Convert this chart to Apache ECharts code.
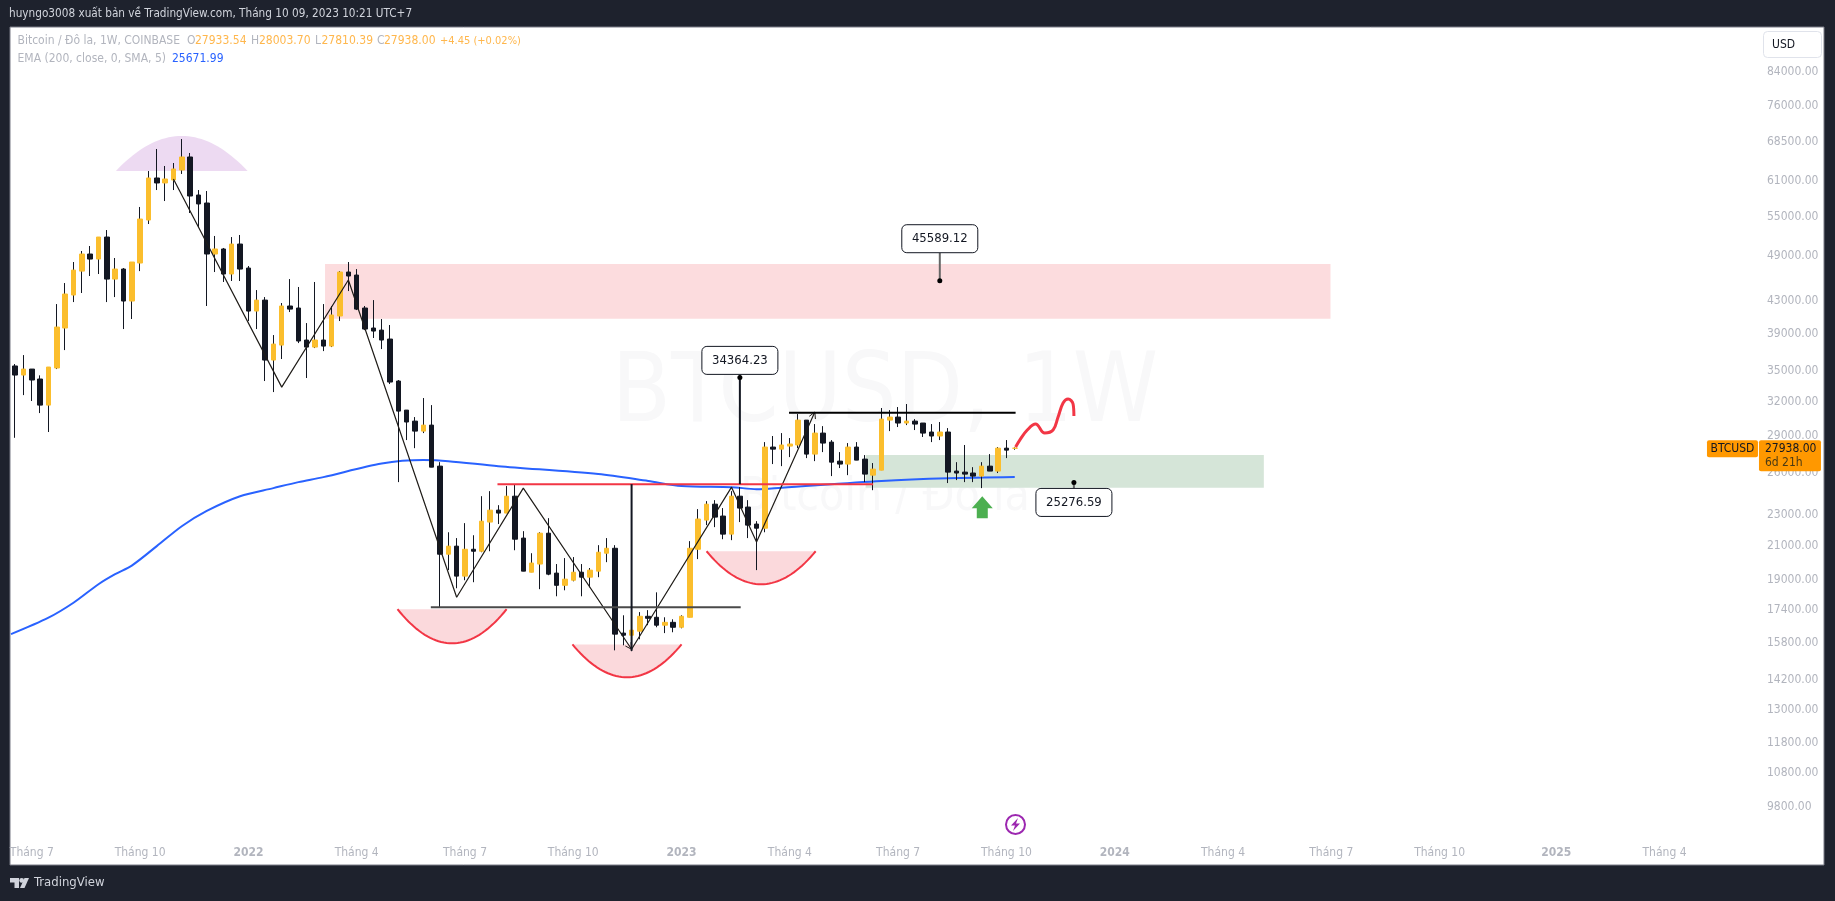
<!DOCTYPE html>
<html>
<head>
<meta charset="utf-8">
<title>BTCUSD 1W</title>
<style>
  html, body { margin: 0; height: 100%; background: #1e222d; }
  #chart { width: 1835px; height: 901px; }
</style>
<script src="https://cdn.jsdelivr.net/npm/echarts@6/dist/echarts.min.js"></script>
</head>
<body>
<div id="chart"></div>
<script>
const FONT = '"DejaVu Sans Condensed", "DejaVu Sans", sans-serif'

// weekly bars start at this monday, the axis runs on into the empty future
const firstWeek = Date.UTC(2021, 5, 21)
const weekCount = 209
const weeks = Array.from({ length: weekCount }, (_, i) =>
  new Date(firstWeek + i * 7 * 864e5).toISOString().slice(0, 10))

const timeTickWeeks = ['2021-07-05', '2021-10-04', '2022-01-03', '2022-04-04', '2022-07-04', '2022-10-03',
  '2023-01-02', '2023-04-03', '2023-07-03', '2023-10-02', '2024-01-01', '2024-04-01', '2024-07-01',
  '2024-09-30', '2025-01-06', '2025-04-07']
const timeTickTexts = ['Tháng 7', 'Tháng 10', '2022', 'Tháng 4', 'Tháng 7', 'Tháng 10',
  '2023', 'Tháng 4', 'Tháng 7', 'Tháng 10', '2024', 'Tháng 4', 'Tháng 7',
  'Tháng 10', '2025', 'Tháng 4']
const priceTicks = [84000, 76000, 68500, 61000, 55000, 49000, 43000, 39000, 35000, 32000, 29000, 26000,
  23000, 21000, 19000, 17400, 15800, 14200, 13000, 11800, 10800, 9800]

// open, close, low, high
const candles = [
  [35530, 34600, 28800, 35730], [34600, 35210, 32630, 36680], [35210, 34100, 32070, 35210], [34200, 31690, 30960, 34570],
  [31690, 35420, 29290, 35420], [35320, 39810, 35210, 42580], [39700, 43850, 37220, 45280], [43720, 47030, 42830, 48150],
  [46890, 49290, 43980, 49730], [49290, 48570, 46220, 50460], [48570, 51800, 46490, 51800], [51800, 45810, 42830, 52870],
  [45810, 47170, 43460, 48720], [47170, 42960, 39580, 47310], [42960, 48150, 40760, 48150], [48010, 54600, 46890, 56560],
  [54440, 61560, 53810, 62830], [61560, 60670, 59430, 67010], [60670, 61380, 57550, 63760], [61200, 63200, 59430, 64320],
  [63010, 65460, 62290, 68990], [65460, 58400, 55570, 66230], [58570, 57060, 53340, 59430], [57220, 49290, 42340, 59260],
  [49290, 50020, 46760, 51960], [50020, 46490, 45420, 50170], [46490, 50750, 45550, 51800], [50750, 47170, 45550, 52110],
  [47310, 41720, 40520, 47590], [41720, 43080, 39580, 44360], [43080, 36150, 34000, 43460], [36150, 37880, 32920, 38890],
  [37770, 42340, 36260, 42710], [42340, 41960, 41600, 45810], [42090, 38220, 37990, 44760], [38330, 37550, 34300, 40280],
  [37550, 38330, 37440, 45420], [38330, 37660, 37110, 42580], [37660, 41240, 37550, 42340], [41120, 46760, 40520, 46890],
  [46760, 46220, 44230, 48150], [46350, 41960, 41840, 47170], [42090, 39580, 39460, 42340], [39700, 39350, 38560, 43080],
  [39460, 38330, 37330, 40760], [38440, 33900, 33700, 40050], [34000, 31140, 25300, 34100], [31230, 30160, 28610, 31230],
  [30240, 29370, 27940, 30600], [29370, 29890, 29200, 32350], [29890, 26430, 26430, 31690], [26510, 20490, 17550, 26820],
  [20490, 20980, 19560, 21850], [20980, 19220, 18550, 21480], [19220, 20790, 18990, 22440], [20790, 20670, 18880, 21660],
  [20670, 22570, 20610, 24280], [22510, 23310, 20670, 24640], [23310, 23110, 22380, 23650], [23110, 24280, 23110, 25010],
  [24280, 21410, 20730, 25160], [21480, 19500, 19500, 21920], [19440, 19970, 19440, 20550], [19910, 21790, 18500, 21850],
  [21790, 19330, 19270, 22770], [19390, 18710, 18120, 19910], [18710, 19050, 18440, 20260], [18990, 19440, 18930, 20320],
  [19440, 19160, 18120, 19910], [19160, 19560, 18600, 19680], [19500, 20610, 19160, 21040], [20550, 20850, 20020, 21480],
  [20850, 16220, 15470, 21040], [16270, 16170, 15700, 17140], [16170, 16410, 15430, 17090], [16360, 17090, 15980, 17300],
  [17090, 16990, 16650, 17400], [17040, 16650, 16550, 18330], [16650, 16790, 16270, 17040], [16790, 16550, 16310, 16940],
  [16550, 17090, 16500, 17140], [17040, 20850, 17040, 21290], [20790, 22710, 20200, 23380], [22640, 23720, 22310, 23930],
  [23720, 22840, 22180, 24000], [22910, 21730, 21410, 23450], [21730, 24280, 21350, 24640], [24280, 23450, 22510, 24930],
  [23520, 22310, 21480, 24000], [22380, 22110, 19560, 22570], [22110, 28030, 21850, 28440], [28030, 27860, 26670, 28950],
  [27860, 28200, 26510, 29200], [28110, 28280, 27220, 28780], [28200, 30330, 27940, 30870], [30330, 27460, 27140, 30330],
  [27460, 29200, 26900, 29980], [29200, 28360, 27620, 29800], [28440, 26820, 25750, 28610], [26900, 26670, 26360, 27620],
  [26670, 28030, 25820, 28360], [28030, 26980, 26980, 28440], [27060, 25900, 25300, 27380], [25820, 26280, 24710, 26750],
  [26200, 30420, 26200, 31420], [30330, 30600, 29370, 31230], [30600, 30070, 29720, 31510], [30070, 30240, 29890, 31790],
  [30240, 29980, 29460, 30420], [30070, 29200, 28870, 30070], [29290, 28950, 28440, 29980], [28950, 29290, 28610, 30160],
  [29290, 26050, 25230, 29630], [26130, 25980, 25450, 26820], [26050, 25900, 25300, 28200], [25980, 25750, 25300, 26430],
  [25750, 26510, 24860, 26820], [26510, 26130, 26130, 27460], [26130, 27940, 25980, 28030], [27940, 27780, 27140, 28610],
  [27933.54, 27938, 27810.39, 28003.7]
]

// x in week numbers, the line starts left of the first visible bar
const emaWeeks = [-0.5, 4, 7, 10, 12, 14, 17, 20, 23, 27, 31, 34, 37, 44, 49, 52, 58, 70, 76, 80, 86, 89, 92, 104, 112, 120]
const emaValues = [16220, 17020, 17780, 18770, 19330, 19820, 20980, 22240, 23260, 24280, 24860, 25300, 25670, 26710, 26980,
  26900, 26510, 25900, 25380, 25010, 24930, 24780, 24890, 25380, 25580, 25671.99]

// drawings, x in week numbers
const zigzagWeeks = [19, 32, 40, 53, 61, 74, 86, 89, 96]
const zigzagPrices = [61380, 33400, 45680, 18070, 24860, 15520, 24930, 21230, 31050]
const zigzagArrows = [5, 8]
const forecastWeeks = [120.1, 120.6, 121.5, 122.5, 123.6, 124.6, 125.2, 125.8, 126.4, 127, 127.1]
const forecastPrices = [28030, 28610, 29460, 29980, 29200, 29460, 30600, 31880, 32250, 31790, 30690]
const sellZone = [37.2, 157.9, 47870, 40800]
const buyZone = [102.1, 149.9, 27380, 24880]
const resistance = [92.9, 120.1, 30990]
const neckline = [57.9, 103, 25150]
const supportLine = [49.9, 87.1, 17550]
const measureA = [74, 25150, 15450]
const measureB = [87, 34364.23, 25150]
const topArc = [12.1, 27.9, 62830, 69610]
const bottomArcs = [[45.9, 59, 17450, 15790], [66.9, 80, 15740, 14300], [83, 96.1, 20670, 18770]]
const calloutWeeks = [87, 111, 127.1]
const calloutPrices = [34364.23, 45589.12, 25276.59]
const lastPrice = 27938
const arrowAt = [116.1, 24280]

function arcPoints(api, arc) {
  const a = api.coord([arc[0], arc[2]])
  const b = api.coord([arc[1], arc[2]])
  const peak = api.coord([(arc[0] + arc[1]) / 2, arc[3]])
  const cy = 2 * peak[1] - a[1]
  const pts = []
  for (let k = 0; k <= 40; k++) {
    const t = k / 40
    pts.push([a[0] + (b[0] - a[0]) * t, (1 - t) * (1 - t) * a[1] + 2 * t * (1 - t) * cy + t * t * b[1]])
  }
  return pts
}

function renderZone(params, api) {
  const z = params.dataIndex === 0 ? sellZone : buyZone
  const p0 = api.coord([z[0], z[2]])
  const p1 = api.coord([z[1], z[3]])
  return {
    type: 'rect',
    shape: { x: p0[0], y: p0[1], width: p1[0] - p0[0], height: p1[1] - p0[1] },
    style: { fill: params.dataIndex === 0 ? '#fcdcde' : '#d5e5d8' }
  }
}

function renderTopArc(params, api) {
  return { type: 'polygon', shape: { points: arcPoints(api, topArc) }, style: { fill: '#eddaf2' } }
}

function renderBottomArc(params, api) {
  const pts = arcPoints(api, bottomArcs[params.dataIndex])
  return {
    type: 'group',
    children: [
      { type: 'polygon', shape: { points: pts }, style: { fill: '#fbd9dc' } },
      { type: 'polyline', shape: { points: pts }, style: { fill: null, stroke: '#f23645', lineWidth: 2 } }
    ]
  }
}

// box size and the gap between box and dot are screen sizes
const calloutGaps = [3, 28, -6]
function renderCallout(params, api) {
  const i = params.dataIndex
  const p = api.coord([calloutWeeks[i], calloutPrices[i]])
  const gap = calloutGaps[i]
  const boxY = gap >= 0 ? p[1] - gap - 28 : p[1] - gap
  const children = [
    { type: 'line', shape: { x1: p[0], y1: p[1], x2: p[0], y2: p[1] - gap }, style: { stroke: '#666', lineWidth: 2 } },
    { type: 'circle', shape: { cx: p[0], cy: p[1], r: 2.5 }, style: { fill: '#000' } },
    {
      type: 'rect',
      shape: { x: p[0] - 38, y: boxY, width: 76, height: 28, r: 5 },
      style: { fill: '#fff', stroke: '#131722', lineWidth: 1 }
    },
    {
      type: 'text',
      style: {
        x: p[0], y: boxY + 14, text: calloutPrices[i].toFixed(2), fill: '#131722',
        align: 'center', verticalAlign: 'middle', font: '13px ' + FONT
      }
    }
  ]
  return { type: 'group', children }
}

function renderArrow(params, api) {
  const p = api.coord(arrowAt)
  const x = p[0]
  const y = p[1]
  return {
    type: 'polygon',
    shape: { points: [[x, y], [x + 10.5, y + 12], [x + 5.5, y + 12], [x + 5.5, y + 22], [x - 5.5, y + 22], [x - 5.5, y + 12], [x - 10.5, y + 12]] },
    style: { fill: '#4caf50' }
  }
}

function renderZigzagHead(params, api) {
  const k = zigzagArrows[params.dataIndex]
  const tip = api.coord([zigzagWeeks[k], zigzagPrices[k]])
  const prev = api.coord([zigzagWeeks[k - 1], zigzagPrices[k - 1]])
  const ang = Math.atan2(prev[1] - tip[1], prev[0] - tip[0])
  const wing = (d) => [tip[0] + 7 * Math.cos(ang + d), tip[1] + 7 * Math.sin(ang + d)]
  return {
    type: 'polyline',
    shape: { points: [wing(0.5), tip, wing(-0.5)] },
    style: { fill: null, stroke: '#1f1c18', lineWidth: 1 }
  }
}

function renderPriceTag(params, api) {
  const p = api.coord([weekCount - 0.5, lastPrice])
  const y = p[1] - 8
  return {
    type: 'group',
    children: [
      { type: 'rect', shape: { x: p[0] - 45, y, width: 51, height: 17, r: 2 }, style: { fill: '#ff9800' } },
      { type: 'rect', shape: { x: p[0] + 7, y, width: 62, height: 31, r: 2 }, style: { fill: '#ff9800' } },
      { type: 'text', style: { x: p[0] - 19.5, y: y + 8.5, text: 'BTCUSD', fill: '#131722', align: 'center', verticalAlign: 'middle', font: '12px ' + FONT } },
      { type: 'text', style: { x: p[0] + 13, y: y + 8.5, text: lastPrice.toFixed(2), fill: '#131722', verticalAlign: 'middle', font: '12px ' + FONT } },
      { type: 'text', style: { x: p[0] + 13, y: y + 23, text: '6d 21h', fill: '#4a3a14', verticalAlign: 'middle', font: '12px ' + FONT } }
    ]
  }
}

function drawing(renderItem, count, z) {
  return {
    type: 'custom',
    xAxisIndex: 1,
    renderItem,
    z,
    silent: true,
    encode: { x: 0, y: 1 },
    data: Array.from({ length: count }, () => [0, 30000])
  }
}

function segment(xs, ys, color, width, z, smooth) {
  return {
    type: 'line',
    xAxisIndex: 1,
    data: xs.map((x, i) => [x, ys[i]]),
    showSymbol: false,
    silent: true,
    smooth: smooth || false,
    z,
    lineStyle: { color, width }
  }
}

function label(text, x, y, fill, size) {
  return { type: 'text', z: 5, style: { text, x, y, fill, verticalAlign: 'middle', font: (size || 12) + 'px ' + FONT } }
}

const chart = echarts.init(document.getElementById('chart'))
chart.setOption({
  animation: false,
  backgroundColor: '#1e222d',
  grid: { left: 11, top: 28, width: 8.33 * weekCount, height: 812 },
  xAxis: [
    {
      type: 'category',
      data: weeks,
      axisLine: { show: false },
      axisTick: { show: false },
      axisLabel: {
        interval: (idx, val) => timeTickWeeks.includes(val),
        formatter: (val) => {
          const t = timeTickTexts[timeTickWeeks.indexOf(val)]
          return /^\d+$/.test(t) ? '{y|' + t + '}' : t
        },
        rich: { y: { color: '#b2b5be', fontFamily: FONT, fontSize: 12, fontWeight: 'bold' } },
        color: '#b2b5be',
        fontFamily: FONT,
        fontSize: 12,
        margin: 7
      }
    },
    { type: 'value', show: false, min: -0.5, max: weekCount - 0.5 }
  ],
  yAxis: {
    type: 'log',
    position: 'right',
    min: 8885,
    max: 95450,
    splitLine: { show: false },
    minorTick: { show: false },
    axisLine: { show: false },
    axisTick: { show: false },
    axisLabel: {
      customValues: priceTicks,
      formatter: (v) => Number(v).toFixed(2),
      color: '#b2b5be',
      fontFamily: FONT,
      fontSize: 12,
      margin: 15
    }
  },
  graphic: [
    { type: 'rect', z: -2, shape: { x: 10, y: 27, width: 1814, height: 838 }, style: { fill: '#fff', stroke: '#787b86', lineWidth: 1 } },
    { type: 'text', z: -1, style: { text: 'BTCUSD, 1W', x: 885, y: 396, fill: '#f8f8f9', align: 'center', verticalAlign: 'middle', font: '96px ' + FONT } },
    { type: 'text', z: -1, style: { text: 'Bitcoin / Đô la', x: 885, y: 498, fill: '#f8f8f9', align: 'center', verticalAlign: 'middle', font: '46px ' + FONT } },
    label('huyngo3008 xuất bản về TradingView.com, Tháng 10 09, 2023 10:21 UTC+7', 9, 14, '#d1d4dc', 11.7),
    label('Bitcoin / Đô la, 1W, COINBASE', 17.5, 41, '#b2b5be'),
    label('O', 187, 41, '#b2b5be'), label('27933.54', 195, 41, '#ffb74d'),
    label('H', 251, 41, '#b2b5be'), label('28003.70', 259, 41, '#ffb74d'),
    label('L', 315, 41, '#b2b5be'), label('27810.39', 321.5, 41, '#ffb74d'),
    label('C', 377, 41, '#b2b5be'), label('27938.00', 384, 41, '#ffb74d'),
    label('+4.45 (+0.02%)', 440, 41, '#ffb74d', 11),
    label('EMA (200, close, 0, SMA, 5)', 17.5, 58.5, '#b2b5be'),
    label('25671.99', 172, 58.5, '#2962ff'),
    { type: 'rect', z: 5, shape: { x: 1763.5, y: 31.5, width: 58, height: 26, r: 4 }, style: { fill: '#fff', stroke: '#e0e3eb', lineWidth: 1 } },
    label('USD', 1772, 44.5, '#131722'),
    { type: 'circle', z: 5, shape: { cx: 1015.5, cy: 824.5, r: 9.5 }, style: { fill: '#fff', stroke: '#9c27b0', lineWidth: 2 } },
    { type: 'polygon', z: 6, shape: { points: [[1018, 818], [1011, 825.5], [1015, 825.5], [1013, 831], [1020, 823.5], [1016, 823.5]] }, style: { fill: '#9c27b0' } },
    // logo
    { type: 'polygon', z: 5, shape: { points: [[10, 878], [19, 878], [19, 888], [14.5, 888], [14.5, 882.5], [10, 882.5]] }, style: { fill: '#d1d4dc' } },
    { type: 'circle', z: 5, shape: { cx: 21.7, cy: 880.4, r: 2.4 }, style: { fill: '#d1d4dc' } },
    { type: 'polygon', z: 5, shape: { points: [[24.5, 878], [29, 878], [24.5, 888], [20, 888]] }, style: { fill: '#d1d4dc' } },
    label('TradingView', 34, 883, '#d1d4dc', 13)
  ],
  series: [
    drawing(renderZone, 2, 1),
    drawing(renderTopArc, 1, 1),
    drawing(renderBottomArc, 3, 1),
    segment(emaWeeks, emaValues, '#2962ff', 2, 2, 0.3),
    // wicks stay black on both colours, so they go in their own pass under the bodies
    {
      type: 'candlestick',
      data: candles,
      barWidth: 1,
      z: 3,
      silent: true,
      itemStyle: { color: '#131722', color0: '#131722', borderColor: '#131722', borderColor0: '#131722', borderWidth: 1 }
    },
    {
      type: 'candlestick',
      data: candles.map((c) => [c[0], c[1], Math.min(c[0], c[1]), Math.max(c[0], c[1])]),
      barWidth: 5,
      z: 3,
      silent: true,
      itemStyle: { color: '#fbbe2d', color0: '#131722', borderColor: '#fbbe2d', borderColor0: '#131722', borderWidth: 1 }
    },
    segment(zigzagWeeks, zigzagPrices, '#1f1c18', 1.2, 4),
    drawing(renderZigzagHead, 2, 4),
    segment([neckline[0], neckline[1]], [neckline[2], neckline[2]], '#f23645', 2, 4),
    segment([supportLine[0], supportLine[1]], [supportLine[2], supportLine[2]], '#4a4a4a', 2, 4),
    segment([resistance[0], resistance[1]], [resistance[2], resistance[2]], '#000', 2, 4),
    segment([measureA[0], measureA[0]], [measureA[1], measureA[2]], '#131722', 2, 4),
    segment([measureB[0], measureB[0]], [measureB[1], measureB[2]], '#131722', 2, 4),
    segment(forecastWeeks, forecastPrices, '#f23645', 3, 4, 0.4),
    drawing(renderCallout, 3, 6),
    drawing(renderArrow, 1, 6),
    drawing(renderPriceTag, 1, 10)
  ]
})
</script>
</body>
</html>
